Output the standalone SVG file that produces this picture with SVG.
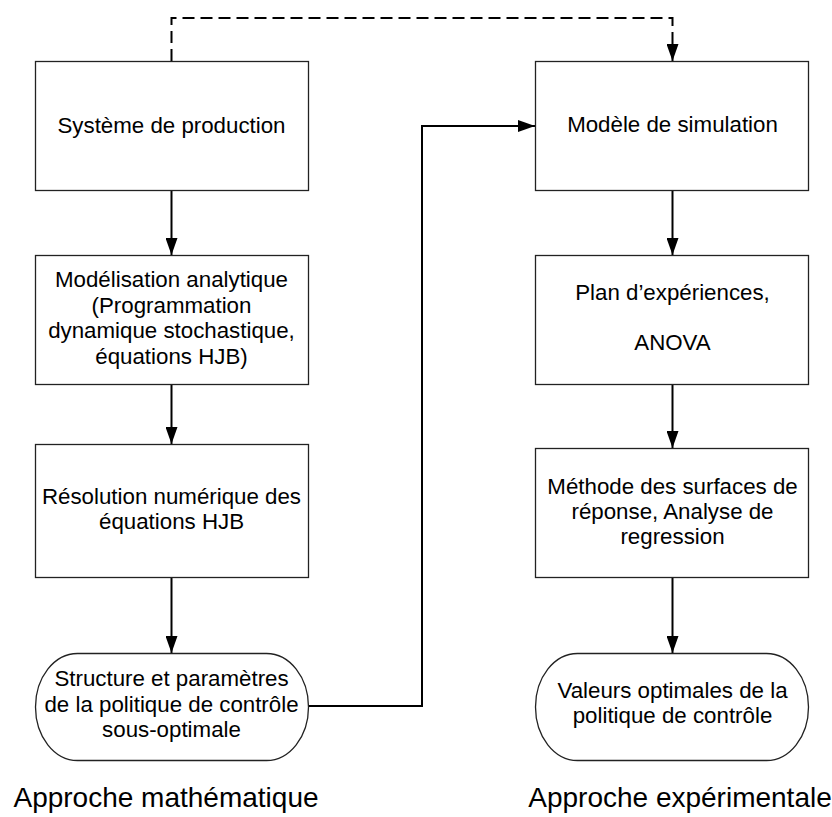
<svg xmlns="http://www.w3.org/2000/svg" width="832" height="817" viewBox="0 0 832 817">
  <defs>
    <!-- filled arrowhead, 12 wide and 17 long, tip on the line end -->
    <marker id="arrow" markerUnits="userSpaceOnUse" markerWidth="17" markerHeight="12" viewBox="0 0 17 12" refX="17" refY="6" orient="auto">
      <path d="M0,0 L17,6 L0,12 Z" fill="#000"/>
    </marker>
  </defs>
  <style>
    .box { fill: #fff; stroke: #222; stroke-width: 1.3; }
    .lbl { font-family: "Liberation Sans", Arial, sans-serif; font-size: 22.3px; fill: #000; text-anchor: middle; }
    .cap { font-family: "Liberation Sans", Arial, sans-serif; font-size: 28px; fill: #000; text-anchor: middle; }
    .flow { fill: none; stroke: #000; stroke-width: 2; marker-end: url(#arrow); }
    .dash { stroke-dasharray: 12 6; }
  </style>
  <rect width="832" height="817" fill="#fff"/>

  <!-- connectors -->
  <g id="connectors">
    <path class="flow dash" d="M171.5,61 V18 H672.5 V61"/>

    <line class="flow" x1="171.5" y1="190" x2="171.5" y2="255"/>
    <line class="flow" x1="171.5" y1="384" x2="171.5" y2="444"/>
    <line class="flow" x1="171.5" y1="577" x2="171.5" y2="653"/>

    <line class="flow" x1="672.5" y1="190" x2="672.5" y2="255"/>
    <line class="flow" x1="672.5" y1="384" x2="672.5" y2="448"/>
    <line class="flow" x1="672.5" y1="577" x2="672.5" y2="653"/>

    <path class="flow" d="M308,706 H422 V126 H535"/>
  </g>

  <!-- left column: approche mathématique -->
  <g id="systeme-production">
    <rect class="box" x="35.5" y="61.5" width="273" height="129"/>
    <text class="lbl" x="171.5" y="133">Système de production</text>
  </g>
  <g id="modelisation-analytique">
    <rect class="box" x="35.5" y="255.5" width="273" height="129"/>
    <text class="lbl" x="171.5" y="287">Modélisation analytique</text>
    <text class="lbl" x="171.5" y="312.5">(Programmation</text>
    <text class="lbl" x="171.5" y="338">dynamique stochastique,</text>
    <text class="lbl" x="171.5" y="363.5">équations HJB)</text>
  </g>
  <g id="resolution-numerique">
    <rect class="box" x="35.5" y="444.5" width="273" height="133"/>
    <text class="lbl" x="171.5" y="504">Résolution numérique des</text>
    <text class="lbl" x="171.5" y="529">équations HJB</text>
  </g>
  <g id="politique-sous-optimale">
    <rect class="box" x="35.5" y="653.5" width="273" height="107" rx="42" ry="53.5"/>
    <text class="lbl" x="171.5" y="686">Structure et paramètres</text>
    <text class="lbl" x="171.5" y="711.5">de la politique de contrôle</text>
    <text class="lbl" x="171.5" y="737">sous-optimale</text>
  </g>
  <g id="titre-mathematique">
    <text class="cap" x="166" y="807">Approche mathématique</text>
  </g>

  <!-- right column: approche expérimentale -->
  <g id="modele-simulation">
    <rect class="box" x="535.5" y="61.5" width="273" height="129"/>
    <text class="lbl" x="672.5" y="132">Modèle de simulation</text>
  </g>
  <g id="plan-experiences">
    <rect class="box" x="535.5" y="255.5" width="273" height="129"/>
    <text class="lbl" x="672.5" y="299.5">Plan d’expériences,</text>
    <text class="lbl" x="672.5" y="350">ANOVA</text>
  </g>
  <g id="surfaces-reponse">
    <rect class="box" x="535.5" y="448.5" width="273" height="129"/>
    <text class="lbl" x="672.5" y="494">Méthode des surfaces de</text>
    <text class="lbl" x="672.5" y="519">réponse, Analyse de</text>
    <text class="lbl" x="672.5" y="543.5">regression</text>
  </g>
  <g id="valeurs-optimales">
    <rect class="box" x="535.5" y="653.5" width="273" height="107" rx="42" ry="53.5"/>
    <text class="lbl" x="672.5" y="698">Valeurs optimales de la</text>
    <text class="lbl" x="672.5" y="723">politique de contrôle</text>
  </g>
  <g id="titre-experimental">
    <text class="cap" x="680" y="807">Approche expérimentale</text>
  </g>
</svg>
